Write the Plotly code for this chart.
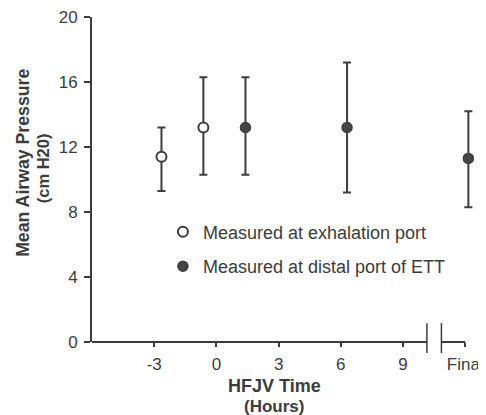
import plotly.graph_objects as go

# Data
open_x = [-2.65, -0.63]
open_y = [11.4, 13.2]
open_hi = [13.2, 16.3]
open_lo = [9.3, 10.3]

fill_x = [1.4, 6.3, 12.15]
fill_y = [13.2, 13.2, 11.3]
fill_hi = [16.3, 17.2, 14.2]
fill_lo = [10.3, 9.2, 8.3]

x_tickvals = [-3, 0, 3, 6, 9, 12]
x_ticktext = ["-3", "0", "3", "6", "9", "Final"]
y_tickvals = [0, 4, 8, 12, 16, 20]

# axis break geometry (x in data units)
x_start = -6
break_left = 10.15
break_right = 10.85
x_final = 12

INK = "#3c3c3c"
FONT = "Liberation Sans, Arial, Helvetica, sans-serif"

fig = go.Figure()

def err(y, hi, lo):
    return dict(type="data", symmetric=False,
                array=[h - v for h, v in zip(hi, y)],
                arrayminus=[v - l for v, l in zip(y, lo)],
                color=INK, thickness=2, width=4)

fig.add_trace(go.Scatter(
    x=open_x, y=open_y, mode="markers", name="Measured at exhalation port",
    marker=dict(symbol="circle", size=10, color="white", line=dict(color=INK, width=2)),
    error_y=err(open_y, open_hi, open_lo), cliponaxis=False, legendgroup="a"))

fig.add_trace(go.Scatter(
    x=fill_x, y=fill_y, mode="markers", name="Measured at distal port of ETT",
    marker=dict(symbol="circle", size=10, color="#454545", line=dict(color=INK, width=1.5)),
    error_y=err(fill_y, fill_hi, fill_lo), cliponaxis=False, legendgroup="b"))

# broken x axis line (x in data units, y relative to the plot area)
shapes = [
    dict(type="line", xref="x", yref="paper", x0=x_start, x1=break_left, y0=0, y1=0,
         line=dict(color=INK, width=2)),
    dict(type="line", xref="x", yref="paper", x0=break_right, x1=x_final, y0=0, y1=0,
         line=dict(color=INK, width=2)),
]
for bx in (break_left, break_right):
    shapes.append(dict(type="line", xref="x", yref="paper", x0=bx, x1=bx, y0=-0.034, y1=0.058,
                       line=dict(color=INK, width=1.5)))

# The page body has an 8px margin, so the figure is sized to fit the window.
fig.update_layout(
    width=478, height=407,
    margin=dict(l=84, r=0, t=9, b=73),
    paper_bgcolor="white", plot_bgcolor="white",
    font=dict(family=FONT, color=INK, size=17),
    showlegend=True,
    legend=dict(x=0.18, y=0.395, xanchor="left", yanchor="top",
                bgcolor="rgba(0,0,0,0)", font=dict(size=18, color=INK),
                tracegroupgap=8, itemsizing="trace"),
    shapes=shapes,
    xaxis=dict(range=[-6, 13], showline=False, showgrid=False, zeroline=False,
               tickvals=x_tickvals, ticktext=x_ticktext, ticks="outside",
               ticklen=4, tickwidth=1.5, tickcolor=INK, ticklabelstandoff=3,
               tickfont=dict(size=17, color=INK)),
    yaxis=dict(range=[0, 20], showline=True, linewidth=2, linecolor=INK,
               showgrid=False, zeroline=False, tickvals=y_tickvals,
               ticks="outside", ticklen=6, tickwidth=1.5, tickcolor=INK,
               ticklabelstandoff=3, ticklabeloverflow="allow",
               tickfont=dict(size=17, color=INK)),
    annotations=[
        dict(text="<b>Mean Airway Pressure</b>", textangle=-90, xref="paper", yref="paper",
             x=-0.177, y=0.552, xanchor="center", yanchor="middle", showarrow=False,
             font=dict(size=17.7, color=INK)),
        dict(text="<b>(cm H20)</b>", textangle=-90, xref="paper", yref="paper",
             x=-0.124, y=0.535, xanchor="center", yanchor="middle", showarrow=False,
             font=dict(size=16.5, color=INK)),
        dict(text="<b>HFJV Time</b>", xref="paper", yref="paper",
             x=0.463, y=-0.136, xanchor="center", yanchor="middle", showarrow=False,
             font=dict(size=18, color=INK)),
        dict(text="<b>(Hours)</b>", xref="paper", yref="paper",
             x=0.463, y=-0.197, xanchor="center", yanchor="middle", showarrow=False,
             font=dict(size=17, color=INK)),
    ],
)

fig.write_html("out.html")
